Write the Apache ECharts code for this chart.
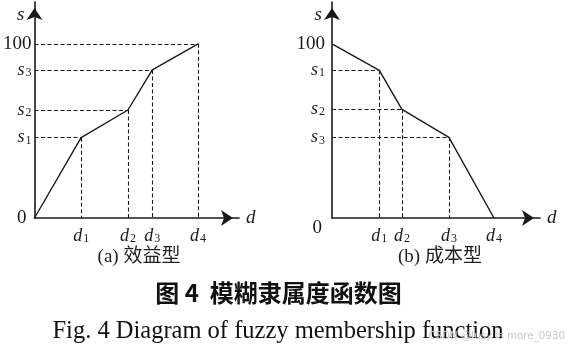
<!DOCTYPE html>
<html>
<head>
<meta charset="utf-8">
<script src="https://cdn.jsdelivr.net/npm/echarts@6/dist/echarts.min.js"></script>
<style>html,body{margin:0;padding:0;background:#fff}#c{width:566px;height:351px}</style>
</head>
<body>
<div id="c"></div>
<script>
// (a) benefit type
const dA = [0, 28.5, 57.1, 72, 100];
const sA = [0, 46.1, 62, 85, 100];
const xLabelsA = ['d1', 'd2', 'd3', 'd4'];
const yLabelsA = ['0', 's1', 's2', 's3', '100'];
// (b) cost type
const dB = [0, 28.9, 42.7, 71.4, 98.9];
const sB = [100, 84.8, 62.4, 46.3, 0];
const xLabelsB = ['d1', 'd2', 'd3', 'd4'];
const yLabelsB = ['0', 's3', 's2', 's1', '100'];
const captionA = '(a) 效益型';
const captionB = '(b) 成本型';
const figTitleCN = '图 4  模糊隶属度函数图';
const figTitleEN = 'Fig. 4 Diagram of fuzzy membership function';
const watermark = 'CSDN @lusy is more_0930';

const INK = '#1a1a1a';
const SERIF = '"Liberation Serif","Times New Roman",serif';

function fmtLabel(lbl) {
  if (lbl === '0' || lbl === '100') return '{n|' + lbl + '}';
  return '{v|' + lbl[0] + '}{sub|' + lbl.slice(1) + '}';
}
const rich = {
  v: {fontFamily: SERIF, fontStyle: 'italic', fontSize: 18, color: INK, lineHeight: 18},
  sub: {fontFamily: SERIF, fontSize: 12, color: INK, lineHeight: 12, padding: [8, 0, 0, 1], verticalAlign: 'bottom'},
  n: {fontFamily: SERIF, fontSize: 19, color: INK}
};

function pointsFrom(d, s) { return d.map((v, i) => [v, s[i]]); }

function guides(d, s, skip) {
  const out = [];
  for (let i = 0; i < d.length; i++) {
    if (skip(d[i], s[i])) continue;
    if (d[i] > 0) out.push([{coord: [0, s[i]]}, {coord: [d[i], s[i]]}]);
    if (s[i] > 0) out.push([{coord: [d[i], s[i]]}, {coord: [d[i], 0]}]);
  }
  return out;
}

function xAxisCfg(gi, d, labels) {
  const vals = d.slice(1);
  return {
    type: 'value', gridIndex: gi, min: 0, max: gi === 0 ? 125 : 127,
    splitLine: {show: false}, axisTick: {show: false},
    axisLine: {show: true, onZero: false, lineStyle: {color: INK, width: 1.6},
      symbol: ['none', 'arrow'], symbolSize: [12, 12], symbolOffset: [0, -6]},
    axisLabel: {customValues: vals, margin: 9, formatter: v => fmtLabel(labels[vals.indexOf(v)] || ''), rich: rich},
    name: 'd', nameLocation: 'end', nameGap: 7,
    nameTextStyle: {fontFamily: SERIF, fontStyle: 'italic', fontSize: 19, color: INK, verticalAlign: 'middle', align: 'left'}
  };
}
function yAxisCfg(gi, vals, labels) {
  return {
    type: 'value', gridIndex: gi, min: 0, max: 124,
    splitLine: {show: false}, axisTick: {show: false},
    axisLine: {show: true, onZero: false, lineStyle: {color: INK, width: 1.6},
      symbol: ['none', 'arrow'], symbolSize: [12, 12], symbolOffset: [0, -6]},
    axisLabel: {customValues: vals, margin: gi === 0 ? 3 : 7,
      formatter: v => {
        const l = labels[vals.indexOf(v)] || '';
        if (l === '0') return gi === 0 ? '{z0|0}' : '{z1|0}';
        return fmtLabel(l);
      },
      rich: Object.assign({}, rich, {
        z0: {fontFamily: SERIF, fontSize: 19, color: INK, padding: [0, 5, 0, 0]},
        z1: {fontFamily: SERIF, fontSize: 19, color: INK, padding: [20, 3, 0, 0]}
      })},
    name: 's', nameLocation: 'end', nameGap: -3,
    nameTextStyle: {fontFamily: SERIF, fontStyle: 'italic', fontSize: 19, color: INK,
      align: 'right', verticalAlign: 'top', padding: [0, 10, 0, 0]}
  };
}

const yValsA = sA.slice().sort((a, b) => a - b);
const yValsB = sB.slice().sort((a, b) => a - b);

const option = {
  animation: false,
  backgroundColor: '#fff',
  grid: [
    {left: 34, top: 2, width: 205, height: 216},
    {left: 332, top: 2, width: 208, height: 216}
  ],
  xAxis: [xAxisCfg(0, dA, xLabelsA), xAxisCfg(1, dB, xLabelsB)],
  yAxis: [yAxisCfg(0, yValsA, yLabelsA), yAxisCfg(1, yValsB, yLabelsB)],
  series: [
    {type: 'line', xAxisIndex: 0, yAxisIndex: 0, data: pointsFrom(dA, sA), showSymbol: false,
      lineStyle: {color: INK, width: 1.4}, z: 3,
      markLine: {silent: true, symbol: 'none', label: {show: false},
        lineStyle: {color: INK, width: 1.1, type: [4, 2.5]},
        data: guides(dA, sA, (d, s) => d === 0 && s === 0)}},
    {type: 'line', xAxisIndex: 1, yAxisIndex: 1, data: pointsFrom(dB, sB), showSymbol: false,
      lineStyle: {color: INK, width: 1.4}, z: 3,
      markLine: {silent: true, symbol: 'none', label: {show: false},
        lineStyle: {color: INK, width: 1.1, type: [4, 2.5]},
        data: guides(dB, sB, (d, s) => d === 0 || s === 0)}}
  ],
  graphic: [
    {type: 'text', x: 139, y: 257, style: {text: captionA, font: '19px "Liberation Serif","Noto Sans CJK SC",serif', fill: '#222', textAlign: 'center', textVerticalAlign: 'middle'}},
    {type: 'text', x: 440, y: 257, style: {text: captionB, font: '19px "Liberation Serif","Noto Sans CJK SC",serif', fill: '#222', textAlign: 'center', textVerticalAlign: 'middle'}},
    {type: 'text', x: 278.5, y: 293, style: {text: figTitleCN, font: 'bold 24px "Noto Sans CJK SC",sans-serif', fill: '#111', textAlign: 'center', textVerticalAlign: 'middle'}},
    {type: 'text', x: 278, y: 332, style: {text: figTitleEN, font: '24.5px "Liberation Serif",serif', fill: '#111', textAlign: 'center', textVerticalAlign: 'middle'}},
    {type: 'text', x: 565, y: 336, style: {text: watermark, font: '10.3px "DejaVu Sans",sans-serif', fill: '#c8c8c8', textAlign: 'right', textVerticalAlign: 'middle'}}
  ]
};
echarts.init(document.getElementById('c'), null, {renderer: 'canvas'}).setOption(option);
</script>
</body>
</html>
